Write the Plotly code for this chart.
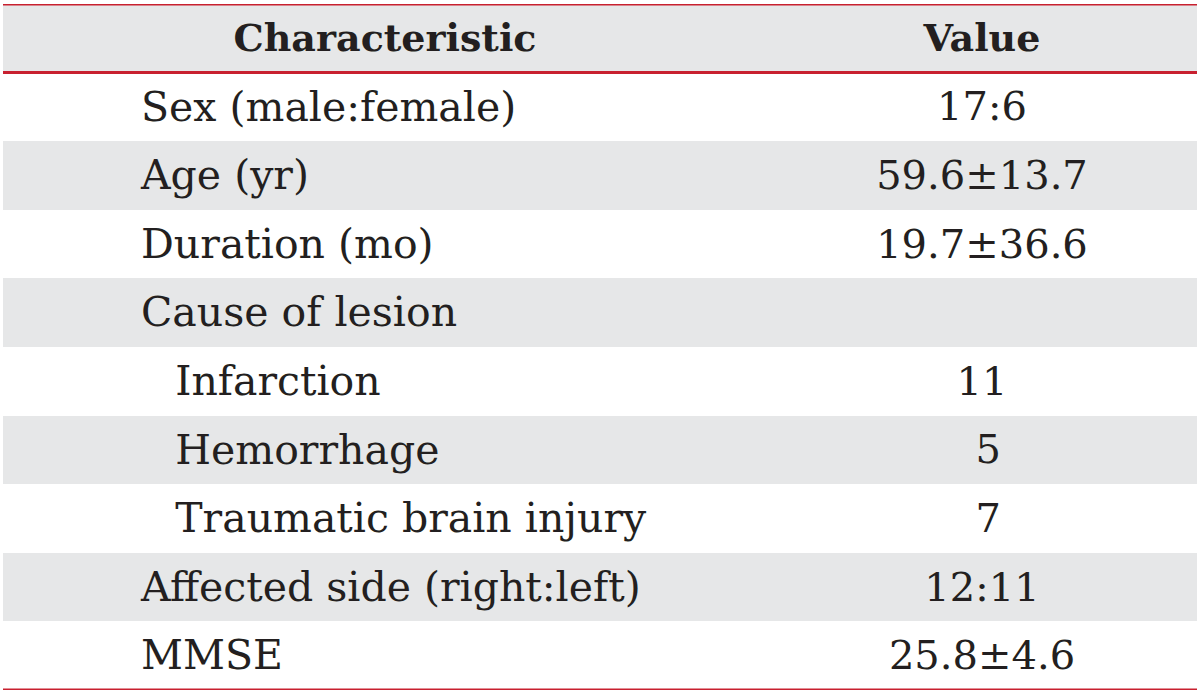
import plotly.graph_objects as go

header = ["Characteristic", "Value"]
characteristics = [
    "Sex (male:female)",
    "Age (yr)",
    "Duration (mo)",
    "Cause of lesion",
    "\u00a0\u00a0\u2009Infarction",
    "\u00a0\u00a0\u2009Hemorrhage",
    "\u00a0\u00a0\u2009Traumatic brain injury",
    "Affected side (right:left)",
    "MMSE",
]
values = ["17:6", "59.6\u00b113.7", "19.7\u00b136.6", "", "11", "\u00a05", "\u00a07", "12:11", "25.8\u00b14.6"]

GRAY = "#e6e7e8"
RED = "#c8202f"
TXT = "#231f20"
FONT = "DejaVu Serif"
W, H = 1200, 697
TOP, BOTTOM = 4, 690
LEFT, RIGHT = 3, 1197
X_LEFT_TEXT = 141
X_HEAD_LEFT = 385
X_VALUE = 982
TEXT_SHIFT = 0.05  # fraction of a row, to centre cap height optically

n = len(characteristics)
rows = list(range(1, n + 1))
gray_rows = [0] + [r for r in rows if r % 2 == 0]
text_rows = [r + TEXT_SHIFT for r in rows]

fig = go.Figure()

# row backgrounds (header + alternating rows)
fig.add_trace(go.Bar(
    y=gray_rows, x=[RIGHT - LEFT] * len(gray_rows), base=LEFT,
    orientation="h", width=1, marker=dict(color=GRAY, line=dict(width=0)),
    hoverinfo="skip", showlegend=False,
))

# header text
fig.add_trace(go.Scatter(
    x=[X_HEAD_LEFT, X_VALUE], y=[TEXT_SHIFT, TEXT_SHIFT], mode="text",
    text=[f"<b>{h}</b>" for h in header], textposition="middle center",
    textfont=dict(family=FONT, size=38, color=TXT),
    hoverinfo="skip", showlegend=False,
))

# first column
fig.add_trace(go.Scatter(
    x=[X_LEFT_TEXT] * n, y=text_rows, mode="text",
    text=characteristics, textposition="middle right",
    textfont=dict(family=FONT, size=41, color=TXT),
    hoverinfo="skip", showlegend=False,
))

# value column
fig.add_trace(go.Scatter(
    x=[X_VALUE] * n, y=text_rows, mode="text",
    text=values, textposition="middle center",
    textfont=dict(family=FONT, size=40, color=TXT),
    hoverinfo="skip", showlegend=False,
))

for yv in [-0.5, 0.5, n + 0.5]:
    fig.add_shape(type="line", xref="x", yref="y",
                  x0=LEFT, x1=RIGHT, y0=yv, y1=yv,
                  line=dict(color=RED, width=3), layer="above")

fig.update_layout(
    width=W, height=H,
    margin=dict(l=0, r=0, t=TOP, b=H - BOTTOM, pad=0),
    paper_bgcolor="white", plot_bgcolor="white",
    bargap=0,
    xaxis=dict(range=[0, W], visible=False, fixedrange=True),
    yaxis=dict(range=[n + 0.5, -0.5], visible=False, fixedrange=True),
)

fig.write_html("out.html", config={"displayModeBar": False},
               post_script="document.body.style.margin='0px';")
